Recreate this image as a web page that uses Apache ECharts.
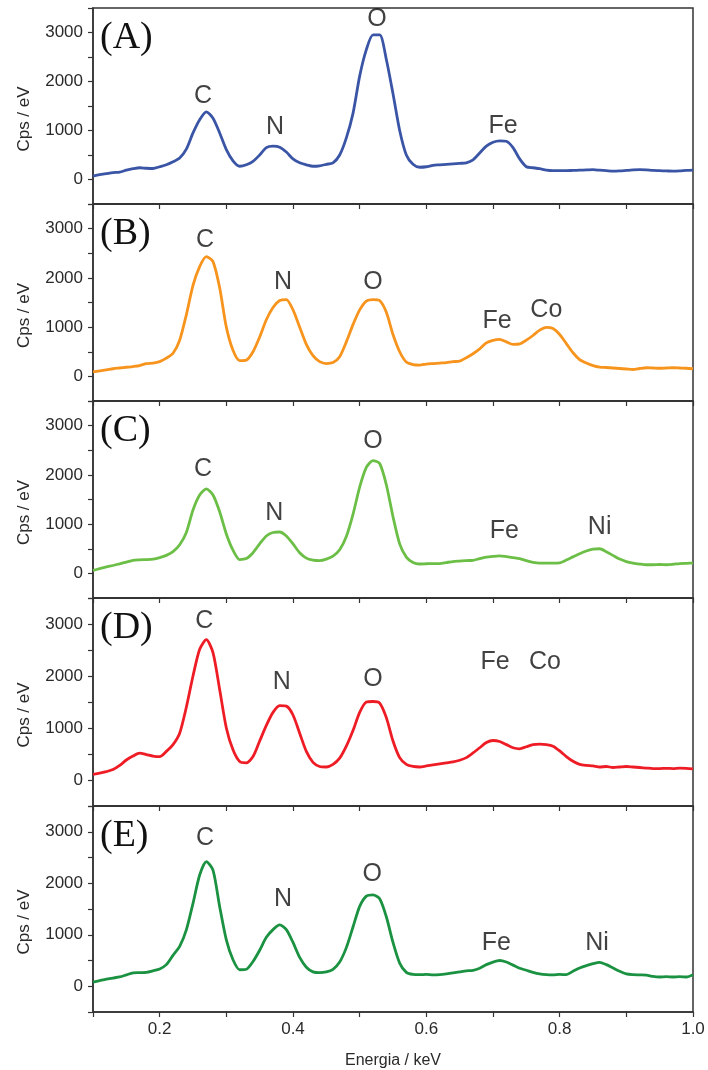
<!DOCTYPE html>
<html>
<head>
<meta charset="utf-8">
<script src="https://cdn.jsdelivr.net/npm/echarts@6/dist/echarts.min.js"></script>
<style>
    html, body { margin: 0; padding: 0; background: #fff; }
    #eds { width: 708px; height: 1070px; }
</style>
</head>
<body>
<div id="eds"></div>
<script>
// energy axis (keV)
const energy = [
    0.10, 0.11, 0.12, 0.13, 0.14, 0.15, 0.16, 0.17, 0.18, 0.19,
    0.20, 0.21, 0.22, 0.23, 0.24, 0.25, 0.26, 0.27, 0.28, 0.29,
    0.30, 0.31, 0.32, 0.33, 0.34, 0.35, 0.36, 0.37, 0.38, 0.39,
    0.40, 0.41, 0.42, 0.43, 0.44, 0.45, 0.46, 0.47, 0.48, 0.49,
    0.50, 0.51, 0.52, 0.53, 0.54, 0.55, 0.56, 0.57, 0.58, 0.59,
    0.60, 0.61, 0.62, 0.63, 0.64, 0.65, 0.66, 0.67, 0.68, 0.69,
    0.70, 0.71, 0.72, 0.73, 0.74, 0.75, 0.76, 0.77, 0.78, 0.79,
    0.80, 0.81, 0.82, 0.83, 0.84, 0.85, 0.86, 0.87, 0.88, 0.89,
    0.90, 0.91, 0.92, 0.93, 0.94, 0.95, 0.96, 0.97, 0.98, 0.99, 1.00
];

// Cps / eV for each sample
const spectrumA = [
    70, 100, 120, 140, 150, 190, 220, 240, 230, 225,
    260, 300, 360, 440, 620, 950, 1220, 1380, 1250, 950,
    610, 380, 270, 300, 370, 500, 650, 680, 660, 560,
    420, 340, 300, 270, 280, 310, 340, 500, 850, 1350,
    2110, 2650, 2950, 2950, 2450, 1750, 1000, 500, 310, 250,
    260, 290, 300, 310, 320, 330, 340, 400, 540, 680,
    760, 790, 780, 650, 420, 260, 240, 220, 190, 180,
    180, 180, 185, 190, 195, 200, 190, 180, 170, 175,
    185, 195, 200, 195, 185, 180, 175, 170, 175, 185, 190
];
const spectrumB = [
    90, 110, 130, 155, 170, 185, 200, 220, 260, 270,
    300, 370, 470, 735, 1250, 1850, 2230, 2430, 2330, 1800,
    1000, 530, 320, 330, 500, 800, 1150, 1400, 1540, 1560,
    1350, 1000, 650, 420, 300, 260, 280, 400, 700, 1050,
    1350, 1530, 1560, 1540, 1300, 850, 500, 290, 240, 230,
    250, 260, 270, 280, 300, 310, 380, 460, 560, 680,
    730, 750, 700, 650, 660, 735, 830, 940, 995, 970,
    850, 665, 480, 340, 270, 220, 190, 180, 170, 160,
    150, 140, 160, 175, 170, 165, 170, 175, 170, 165, 155
];
const spectrumC = [
    60, 95, 130, 160, 195, 230, 265, 275, 280, 290,
    320, 365, 440, 580, 830, 1285, 1590, 1715, 1590, 1250,
    800, 470, 280, 300, 420, 600, 760, 830, 840, 760,
    600, 420, 310, 270, 260, 290, 350, 480, 750, 1200,
    1750, 2150, 2290, 2230, 1800, 1150, 600, 330, 220, 190,
    195, 200, 200, 220, 240, 250, 260, 265, 300, 330,
    345, 355, 340, 320, 300, 260, 225, 210, 210, 210,
    215, 270, 335, 400, 455, 490, 500, 440, 365, 290,
    240, 210, 190, 175, 175, 180, 175, 185, 200, 205, 210
];
const spectrumD = [
    110, 130, 160, 200, 280, 385, 460, 515, 490, 460,
    450, 550, 680, 900, 1400, 2000, 2515, 2700, 2450, 1740,
    1000, 580, 355, 330, 450, 750, 1050, 1300, 1430, 1420,
    1250, 900, 550, 340, 260, 250, 300, 420, 650, 950,
    1300, 1500, 1510, 1480, 1200, 750, 430, 300, 260, 250,
    270, 290, 310, 330, 350, 380, 430, 520, 620, 720,
    760, 740, 680, 620, 600, 640, 680, 690, 680, 650,
    560, 450, 360, 300, 280, 270, 250, 260, 240, 250,
    260, 250, 240, 230, 220, 220, 225, 220, 230, 225, 215
];
const spectrumE = [
    80, 110, 140, 160, 180, 220, 260, 265, 270, 300,
    335, 420, 600, 775, 1095, 1610, 2160, 2420, 2255, 1545,
    900, 515, 320, 330, 480, 700, 950, 1100, 1190, 1100,
    850, 560, 370, 280, 265, 280, 330, 470, 750, 1150,
    1550, 1750, 1775, 1700, 1350, 850, 450, 270, 230, 225,
    230, 220, 225, 240, 260, 280, 300, 310, 350, 420,
    470, 500, 470, 410, 350, 310, 270, 240, 225, 220,
    230, 225, 290, 355, 400, 440, 465, 420, 355, 290,
    240, 225, 220, 215, 190, 180, 185, 180, 185, 180, 225
];

// element labels: [name, energy, height]
const peaksA = [['C', 0.265, 1710], ['N', 0.373, 1060], ['O', 0.526, 3265], ['Fe', 0.715, 1080]];
const peaksB = [['C', 0.268, 2775], ['N', 0.385, 1920], ['O', 0.520, 1920], ['Fe', 0.706, 1120], ['Co', 0.780, 1350]];
const peaksC = [['C', 0.265, 2120], ['N', 0.372, 1220], ['O', 0.520, 2690], ['Fe', 0.717, 860], ['Ni', 0.860, 940]];
const peaksD = [['C', 0.267, 3055], ['N', 0.383, 1875], ['O', 0.520, 1935], ['Fe', 0.703, 2260], ['Co', 0.778, 2260]];
const peaksE = [['C', 0.268, 2875], ['N', 0.385, 1700], ['O', 0.519, 2175], ['Fe', 0.705, 845], ['Ni', 0.856, 845]];

const panelNames = ['(A)', '(B)', '(C)', '(D)', '(E)'];
const colors = ['#3a55a5', '#f7941e', '#6cbf46', '#ee1c25', '#1b9241'];

const spectra = [spectrumA, spectrumB, spectrumC, spectrumD, spectrumE];
const peaks = [peaksA, peaksB, peaksC, peaksD, peaksE];

// panel boxes in pixels
const panels = [
    {top: 8, height: 196},
    {top: 204, height: 197},
    {top: 401, height: 197},
    {top: 598, height: 208},
    {top: 806, height: 206}
];

const axisColor = '#333';
const sans = 'Liberation Sans, Arial, sans-serif';

let grid = [], xAxis = [], yAxis = [], series = [], title = [];

panels.forEach(function (p, i) {
    let last = i === panels.length - 1;
    grid.push({
        left: 93, right: 15, top: p.top, height: p.height,
        show: true, borderColor: axisColor, borderWidth: 1.5, backgroundColor: 'transparent'
    });
    xAxis.push({
        type: 'value', gridIndex: i, min: 0.1, max: 1.0, interval: 0.1,
        splitLine: {show: false},
        axisLine: {onZero: false, lineStyle: {color: axisColor, width: 1.5}},
        axisTick: {length: 5, lineStyle: {color: axisColor, width: 1.2}},
        axisLabel: {
            show: last, margin: 9, fontSize: 17, color: '#2a2a2a', fontFamily: sans,
            formatter: function (v) {
                let k = Math.round(v * 10);
                return k % 2 === 0 ? (k / 10).toFixed(1) : '';
            }
        },
        name: last ? 'Energia / keV' : '',
        nameLocation: 'middle', nameGap: 41,
        nameTextStyle: {fontSize: 16, color: '#2a2a2a', fontFamily: sans}
    });
    yAxis.push({
        type: 'value', gridIndex: i, min: -500, max: 3500, interval: 500,
        splitLine: {show: false},
        axisLine: {show: true, onZero: false, lineStyle: {color: axisColor, width: 1.5}},
        axisTick: {show: true, length: 5, lineStyle: {color: axisColor, width: 1.2}},
        axisLabel: {
            margin: 10, fontSize: 17, color: '#2a2a2a', fontFamily: sans,
            formatter: function (v) {
                return (v >= 0 && v <= 3000 && v % 1000 === 0) ? String(v) : '';
            }
        },
        name: 'Cps / eV', nameLocation: 'middle', nameGap: 60, nameRotate: 90,
        // push the rotated title a little below the panel middle
        nameTextStyle: {fontSize: 17, color: '#2a2a2a', fontFamily: sans, padding: [0, 26, 0, 0]}
    });
    series.push({
        type: 'line', xAxisIndex: i, yAxisIndex: i,
        data: energy.map(function (e, j) { return [e, spectra[i][j]]; }),
        showSymbol: false, smooth: 0.25,
        lineStyle: {color: colors[i], width: 2.8},
        itemStyle: {color: colors[i]},
        silent: true
    });
    series.push({
        type: 'scatter', xAxisIndex: i, yAxisIndex: i, symbolSize: 0,
        data: peaks[i].map(function (pk) { return {name: pk[0], value: [pk[1], pk[2]]}; }),
        label: {
            show: true, position: 'inside', formatter: '{b}',
            fontSize: 25, color: '#111', fontFamily: sans
        },
        silent: true
    });
    title.push({
        text: panelNames[i], left: 95, top: p.top + 6,
        textStyle: {fontFamily: 'Liberation Serif, Times New Roman, serif', fontSize: 38, fontWeight: 'normal', color: '#111'}
    });
});

const option = {
    animation: false,
    title: title,
    grid: grid,
    xAxis: xAxis,
    yAxis: yAxis,
    series: series
};

let chart = echarts.init(document.getElementById('eds'));
chart.setOption(option);

window.addEventListener('resize', function () {
    chart.resize();
});
</script>
</body>
</html>
